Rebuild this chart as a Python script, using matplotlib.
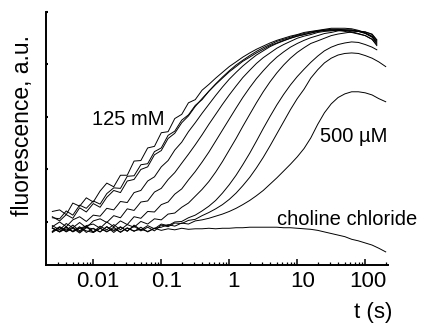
import numpy as np
import matplotlib
matplotlib.use("Agg")
import matplotlib.pyplot as plt
from matplotlib.ticker import LogLocator, FixedLocator, FixedFormatter, NullFormatter
from matplotlib.transforms import ScaledTranslation

plt.rcParams['font.family'] = ['Liberation Sans', 'DejaVu Sans']

# time points (s)
t = [0.0025, 0.0032, 0.004, 0.005, 0.0063, 0.0079, 0.01, 0.0126, 0.0158, 0.02,
     0.0251, 0.0316, 0.0398, 0.0501, 0.0631, 0.0794, 0.1, 0.126, 0.158, 0.2,
     0.251, 0.316, 0.398, 0.501, 0.631, 0.794, 1, 1.26, 1.58, 2,
     2.51, 3.16, 3.98, 5.01, 6.31, 7.94, 10, 12.6, 15.8, 20,
     25.1, 31.6, 39.8, 50.1, 63.1, 79.4, 100, 126, 158, 200]
# the faster traces stop a little earlier
t_fast = t[:48] + [148]

# fluorescence traces (a.u.), fastest (125 mM) to slowest (500 uM)
c1 = [0.20, 0.23, 0.14, 0.36, 0.30, 0.46, 0.38, 0.59, 0.74, 0.67, 0.89, 0.89, 1.16, 1.17, 1.41, 1.44, 1.70, 1.72, 1.97, 2.05, 2.27, 2.33, 2.51,
      2.62, 2.74, 2.85, 2.96, 3.05, 3.14, 3.22, 3.29, 3.35, 3.41, 3.46, 3.50, 3.54, 3.57, 3.61, 3.63, 3.65, 3.67, 3.69, 3.69, 3.69, 3.68, 3.65, 3.60, 3.53, 3.42]
c2 = [0.08, 0.06, 0.21, 0.13, 0.32, 0.26, 0.40, 0.34, 0.54, 0.65, 0.64, 0.87, 0.88, 1.09, 1.11, 1.34, 1.41, 1.65, 1.73, 1.94, 2.04, 2.22, 2.33,
      2.49, 2.62, 2.74, 2.86, 2.96, 3.06, 3.14, 3.22, 3.29, 3.36, 3.41, 3.46, 3.50, 3.54, 3.57, 3.60, 3.63, 3.65, 3.67, 3.67, 3.66, 3.65, 3.63, 3.59, 3.52, 3.40]
c3 = [0.10, 0.02, 0.14, 0.07, 0.27, 0.19, 0.35, 0.28, 0.47, 0.60, 0.56, 0.78, 0.81, 1.00, 1.05, 1.28, 1.36, 1.59, 1.69, 1.89, 2.02, 2.20,
      2.35, 2.49, 2.63, 2.76, 2.88, 2.99, 3.08, 3.17, 3.25, 3.32, 3.38, 3.44, 3.48, 3.52, 3.56, 3.59, 3.62, 3.64, 3.66, 3.66, 3.66, 3.65, 3.62, 3.59, 3.55, 3.48, 3.38]
c4 = [-0.09, 0.00, -0.09, 0.04, 0.10, 0.01, 0.13, 0.11, 0.26, 0.23, 0.39, 0.37, 0.56, 0.60, 0.78, 0.86, 1.05, 1.17, 1.37, 1.52, 1.72, 1.89,
      2.07, 2.24, 2.41, 2.57, 2.72, 2.85, 2.97, 3.08, 3.18, 3.26, 3.34, 3.40, 3.45, 3.50, 3.54, 3.57, 3.60, 3.63, 3.65, 3.65, 3.65, 3.63, 3.61, 3.58, 3.55, 3.48, 3.36]
c5 = [-0.07, -0.15, -0.03, -0.11, -0.01, -0.11, 0.02, 0.06, -0.01, 0.12, 0.08, 0.25, 0.22, 0.38, 0.40, 0.57, 0.64, 0.81, 0.94, 1.12, 1.29, 1.47,
      1.66, 1.86, 2.05, 2.24, 2.42, 2.59, 2.75, 2.89, 3.02, 3.13, 3.22, 3.31, 3.38, 3.44, 3.50, 3.54, 3.57, 3.61, 3.63, 3.64, 3.66, 3.66, 3.66, 3.63, 3.60, 3.54, 3.44]
c6 = [-0.18, -0.09, -0.16, -0.06, -0.17, -0.07, -0.04, -0.12, 0.00, -0.09, 0.02, -0.05, 0.10, 0.07, 0.20, 0.19, 0.33, 0.38, 0.53, 0.63, 0.80, 0.96,
      1.14, 1.33, 1.54, 1.75, 1.96, 2.17, 2.37, 2.56, 2.73, 2.88, 3.02, 3.14, 3.24, 3.33, 3.40, 3.46, 3.51, 3.55, 3.59, 3.61, 3.64, 3.65, 3.65, 3.64, 3.62, 3.57, 3.46]
c7 = [-0.12, -0.18, -0.09, -0.19, -0.12, -0.08, -0.19, -0.08, -0.15, -0.05, -0.15, -0.05, -0.10, 0.01, -0.04, 0.06, 0.04, 0.15, 0.17, 0.28, 0.36, 0.49,
      0.62, 0.77, 0.95, 1.15, 1.37, 1.59, 1.82, 2.05, 2.27, 2.48, 2.67, 2.84, 2.99, 3.12, 3.23, 3.32, 3.40, 3.45, 3.50, 3.55, 3.58, 3.60, 3.62, 3.63, 3.62, 3.58, 3.47]
c8 = [-0.18, -0.10, -0.19, -0.12, -0.21, -0.11, -0.13, -0.19, -0.09, -0.17, -0.09, -0.18, -0.06, -0.15, -0.07, -0.13, -0.04, -0.07, 0.00, 0.01, 0.08, 0.13,
      0.21, 0.30, 0.41, 0.55, 0.71, 0.89, 1.09, 1.31, 1.54, 1.78, 2.01, 2.23, 2.43, 2.61, 2.77, 2.91, 3.04, 3.16, 3.26, 3.33, 3.38, 3.41, 3.43, 3.42, 3.38, 3.33, 3.28]
c9 = [-0.11, -0.19, -0.10, -0.18, -0.09, -0.20, -0.12, -0.19, -0.09, -0.20, -0.10, -0.17, -0.08, -0.17, -0.10, -0.17, -0.06, -0.09, -0.02, -0.03, 0.03, 0.05,
      0.12, 0.18, 0.25, 0.33, 0.43, 0.55, 0.69, 0.85, 1.03, 1.23, 1.45, 1.68, 1.91, 2.14, 2.35, 2.53, 2.74, 2.90, 3.03, 3.12, 3.18, 3.21, 3.22, 3.21, 3.17, 3.12, 3.05, 2.96]
c10 = [-0.20, -0.11, -0.18, -0.10, -0.19, -0.09, -0.20, -0.12, -0.19, -0.10, -0.20, -0.11, -0.18, -0.10, -0.19, -0.12, -0.10, -0.05, -0.08, -0.02, -0.04, 0.02,
       0.04, 0.07, 0.11, 0.15, 0.20, 0.26, 0.33, 0.41, 0.50, 0.60, 0.72, 0.84, 0.97, 1.10, 1.24, 1.40, 1.60, 1.86, 2.08, 2.25, 2.37, 2.44, 2.48, 2.48, 2.46, 2.42, 2.35, 2.29]
choline = [-0.12, -0.19, -0.13, -0.18, -0.11, -0.17, -0.20, -0.12, -0.18, -0.13, -0.19, -0.12, -0.17, -0.14, -0.18, -0.12, -0.16, -0.13, -0.15, -0.12, -0.14, -0.13,
           -0.13, -0.12, -0.13, -0.12, -0.12, -0.11, -0.11, -0.10, -0.10, -0.10, -0.10, -0.10, -0.11, -0.11, -0.12, -0.13, -0.14, -0.16, -0.19, -0.22, -0.25, -0.28, -0.33, -0.36, -0.40, -0.44, -0.50, -0.57]

fast = [c1, c2, c3, c4, c5, c6, c7, c8]
slow = [c9, c10, choline]

xtick_vals = [0.01, 0.1, 1, 10, 100]
xtick_labels = ['0.01', '0.1', '1', '10', '100']
label_shift_px = [5, 5, 4, 5, 3]   # labels sit a bit right of their ticks in the original

fig = plt.figure(figsize=(4.23, 3.25), dpi=100)
ax = fig.add_axes([0.1099, 0.1846, 0.8073, 0.7785])

for y in fast:
    ax.plot(t_fast, y, color='black', lw=0.7)
for y in slow:
    ax.plot(t, y, color='black', lw=0.7)

ax.set_xscale('log')
ax.set_xlim(0.00205, 216)
ax.set_ylim(-0.82, 4.0)

ax.xaxis.set_major_locator(FixedLocator(xtick_vals))
ax.xaxis.set_major_formatter(FixedFormatter(xtick_labels))
ax.xaxis.set_minor_locator(LogLocator(base=10, subs=np.arange(2, 10), numticks=20))
ax.xaxis.set_minor_formatter(NullFormatter())
ax.set_yticks([0, 1, 2, 3, 4])
ax.set_yticklabels([])

ax.tick_params(axis='x', which='major', direction='in', length=4.5, width=1.1, labelsize=16, pad=4.5)
ax.tick_params(axis='x', which='minor', direction='in', length=2.3, width=0.9)
ax.tick_params(axis='y', which='major', direction='in', length=1.5, width=1.5)

for lab, dx in zip(ax.get_xticklabels(), label_shift_px):
    lab.set_transform(lab.get_transform() + ScaledTranslation(dx / 100, 0, fig.dpi_scale_trans))

for s in ['top', 'right']:
    ax.spines[s].set_visible(False)
for s in ['left', 'bottom']:
    ax.spines[s].set_linewidth(1.4)

ax.text(0.0096, 1.85, '125 mM', fontsize=14.5, va='baseline', ha='left')
ax.text(21.6, 1.52, '500 µM', fontsize=14.5, va='baseline', ha='left')
ax.text(5.0, -0.057, 'choline chloride', fontsize=14.5, va='baseline', ha='left', clip_on=False)

fig.text(22 / 423, 0.615, 'fluorescence, a.u.', rotation=90, ha='center', va='center', fontsize=16.5)
fig.text(392 / 423, 7 / 325, 't (s)', ha='right', va='baseline', fontsize=16)

fig.savefig('out.png', dpi=100)
